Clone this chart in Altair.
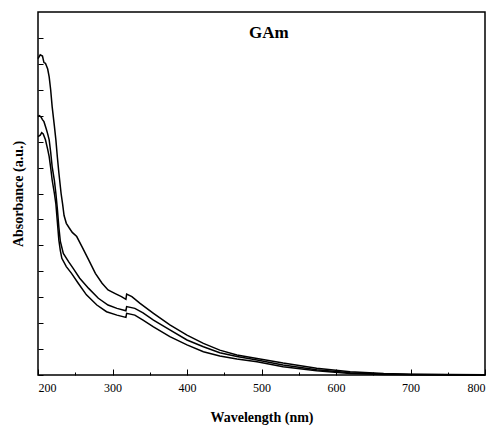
import altair as alt
import pandas as pd

# Absorbance spectra of the three GAm samples (wavelength in nm, absorbance in a.u.)
wl_upper = [200, 203, 206, 208, 210, 213, 215, 217, 219, 222, 224, 226, 228, 231,
            233, 235, 238, 242, 246, 252, 259, 268, 277, 286, 294, 303, 312, 318,
            319, 326, 337, 355, 377, 400, 422, 444, 467, 494, 529, 574, 619, 664,
            700, 750, 800]
abs_upper = [12.2, 12.35, 12.3, 12.05, 12.02, 11.8, 11.5, 11.0, 10.35, 9.6, 9.07,
             8.4, 7.8, 7.0, 6.6, 6.15, 5.85, 5.67, 5.5, 5.34, 4.95, 4.44, 3.92,
             3.54, 3.28, 3.15, 3.02, 2.92, 3.12, 3.02, 2.76, 2.38, 1.93, 1.54, 1.22,
             0.96, 0.77, 0.64, 0.46, 0.26, 0.13, 0.06, 0.03, 0.02, 0.01]

wl_middle = [200, 202, 204, 206, 208, 211, 213, 215, 217, 219, 222, 224, 226, 228,
             230, 234, 241, 247, 256, 268, 281, 294, 306, 318, 319, 330, 341, 355,
             377, 400, 422, 444, 467, 494, 529, 574, 619, 664, 700, 750, 800]
abs_middle = [9.97, 10.0, 9.95, 9.85, 9.77, 9.5, 9.3, 9.07, 8.6, 8.04, 7.5, 7.0,
              6.4, 5.7, 5.15, 4.69, 4.37, 4.12, 3.73, 3.34, 2.96, 2.7, 2.57, 2.48,
              2.64, 2.57, 2.4, 2.12, 1.74, 1.35, 1.09, 0.86, 0.71, 0.58, 0.39, 0.2,
              0.09, 0.04, 0.02, 0.01, 0.0]

wl_lower = [200, 203, 205, 207, 210, 213, 215, 217, 219, 222, 224, 226, 228, 230,
            232, 238, 245, 254, 265, 279, 292, 306, 318, 319, 330, 341, 355, 377,
            400, 422, 444, 467, 494, 529, 574, 619, 664, 700, 750, 800]
abs_lower = [9.19, 9.25, 9.35, 9.3, 9.07, 8.7, 8.42, 8.0, 7.52, 7.0, 6.6, 5.9, 5.2,
             4.8, 4.5, 4.18, 3.92, 3.54, 3.09, 2.7, 2.44, 2.31, 2.22, 2.38, 2.31,
             2.12, 1.86, 1.48, 1.16, 0.9, 0.73, 0.62, 0.51, 0.32, 0.16, 0.06, 0.02,
             0.01, 0.0, 0.0]

x_major = [200, 300, 400, 500, 600, 700, 800]
x_minor = [250, 350, 450, 550, 650, 750]
y_ticks = list(range(0, 14))

panel_title = ["GAm"]
title_wl = [510]
title_abs = [13.2]

frames = []
for name, wl, ab in [("upper", wl_upper, abs_upper),
                     ("middle", wl_middle, abs_middle),
                     ("lower", wl_lower, abs_lower)]:
    frames.append(pd.DataFrame({"wavelength": wl, "absorbance": ab, "sample": name}))
spectra = pd.concat(frames, ignore_index=True)

serif = "Liberation Serif"

x_scale = alt.Scale(domain=[200, 800], nice=False, zero=False)
y_scale = alt.Scale(domain=[0, 14], nice=False, zero=False)

# Negative offsets pull the axes inside the frame so ticks point inward
y_axis = alt.Axis(values=y_ticks, labels=False, tickSize=5, offset=-5, domain=False,
                  title="Absorbance (a.u.)", titlePadding=12)

lines = alt.Chart(spectra).mark_line(color="black", strokeWidth=1.5).encode(
    x=alt.X("wavelength:Q", scale=x_scale,
            axis=alt.Axis(orient="bottom", values=x_major, format="d", tickSize=6,
                          offset=-6, domain=False, labelPadding=7,
                          title="Wavelength (nm)", titlePadding=17)),
    y=alt.Y("absorbance:Q", scale=y_scale, axis=y_axis),
    detail="sample:N",
)

title_df = pd.DataFrame({"wavelength": title_wl, "absorbance": title_abs,
                         "label": panel_title})
heading = alt.Chart(title_df).mark_text(
    font=serif, fontSize=17, fontWeight="bold", color="black", baseline="middle"
).encode(
    x=alt.X("wavelength:Q", scale=x_scale,
            axis=alt.Axis(orient="bottom", values=x_minor, tickSize=3, offset=-3,
                          domain=False, labels=False, title=None)),
    y=alt.Y("absorbance:Q", scale=y_scale, axis=y_axis),
    text="label:N",
)

chart = (
    alt.layer(lines, heading)
    .resolve_axis(x="independent")
    .properties(
        width=447,
        height=363,
        autosize=alt.AutoSizeParams(type="none"),
        padding={"left": 38, "top": 12, "right": 11, "bottom": 55},
        background="white",
    )
    .configure_view(stroke="black", strokeWidth=1.5)
    .configure_axis(
        labelFont=serif, titleFont=serif, labelFontSize=12, titleFontSize=14,
        titleFontWeight="bold", labelColor="black", titleColor="black",
        tickColor="black", tickWidth=1, grid=False,
    )
)

chart.save("out.html", embed_options={"renderer": "svg", "actions": False})
